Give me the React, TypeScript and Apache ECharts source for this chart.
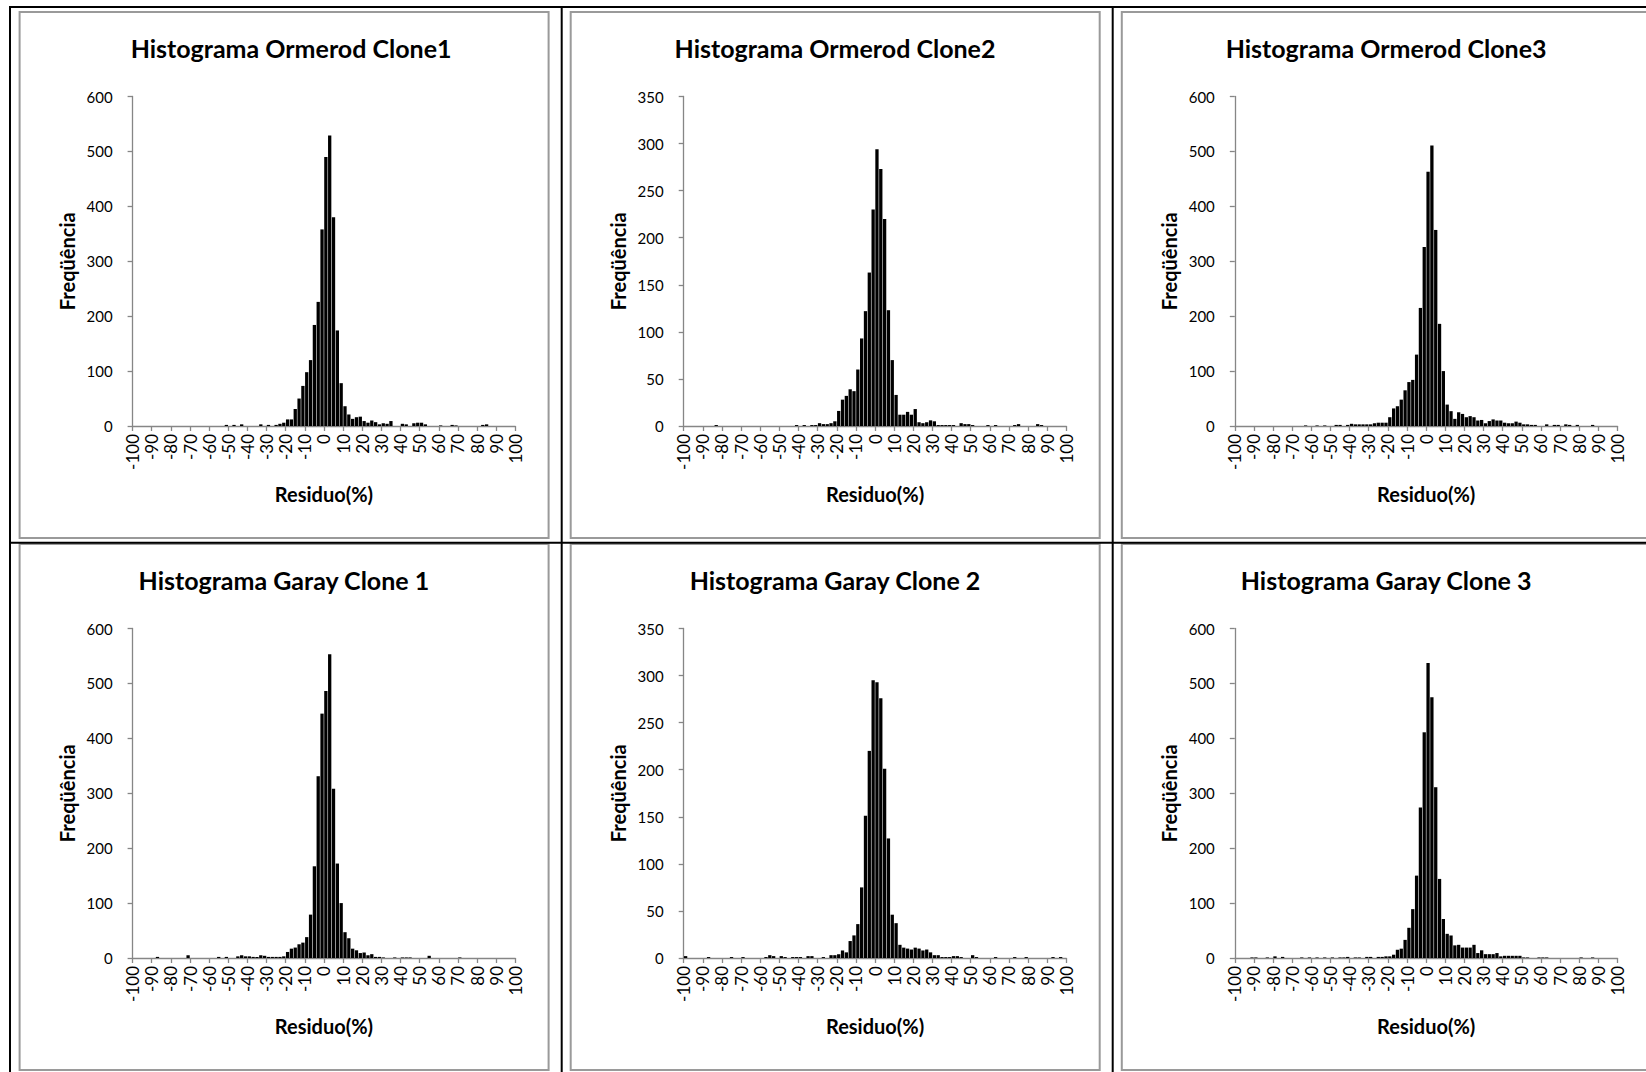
import React, { useEffect, useRef } from "react";
import * as echarts from "echarts";

// Bin centres (2%-wide bins from -100 to 100)
const BIN_CENTERS = [
  -99, -97, -95, -93, -91, -89, -87, -85, -83, -81,
  -79, -77, -75, -73, -71, -69, -67, -65, -63, -61,
  -59, -57, -55, -53, -51, -49, -47, -45, -43, -41,
  -39, -37, -35, -33, -31, -29, -27, -25, -23, -21,
  -19, -17, -15, -13, -11, -9, -7, -5, -3, -1,
  1, 3, 5, 7, 9, 11, 13, 15, 17, 19,
  21, 23, 25, 27, 29, 31, 33, 35, 37, 39,
  41, 43, 45, 47, 49, 51, 53, 55, 57, 59,
  61, 63, 65, 67, 69, 71, 73, 75, 77, 79,
  81, 83, 85, 87, 89, 91, 93, 95, 97, 99,
];

const X_MIN = -100;
const X_MAX = 100;
const X_STEP = 10;

const TITLES = [
  "Histograma Ormerod Clone1",
  "Histograma Ormerod Clone2",
  "Histograma Ormerod Clone3",
  "Histograma Garay Clone 1",
  "Histograma Garay Clone 2",
  "Histograma Garay Clone 3",
];
const Y_MAX = [600, 350, 600, 600, 350, 600];
const Y_STEP = [100, 50, 100, 100, 50, 100];
const X_NAME = "Residuo(%)";
const Y_NAME = "Freqüência";

const ORMEROD_CLONE1 = [
  0, 0, 0, 0, 0, 0, 0, 0, 0, 0,
  0, 0, 0, 0, 0, 0, 0, 0, 0, 0,
  0, 0, 0, 0, 2, 0, 2, 0, 3, 0,
  0, 0, 0, 3, 0, 2, 0, 2, 4, 6,
  12, 12, 31, 50, 73, 98, 120, 184, 226, 358,
  490, 529, 380, 174, 78, 36, 21, 13, 16, 17,
  9, 6, 10, 7, 3, 5, 4, 9, 0, 0,
  4, 3, 0, 5, 6, 6, 3, 0, 0, 0,
  1, 0, 0, 2, 1, 0, 0, 0, 0, 0,
  0, 2, 3, 0, 0, 0, 0, 0, 0, 0,
];
const ORMEROD_CLONE2 = [
  0, 0, 0, 0, 0, 0, 0, 0, 1, 0,
  0, 0, 0, 0, 0, 0, 0, 0, 0, 0,
  0, 0, 0, 0, 0, 0, 0, 0, 0, 1,
  0, 1, 0, 1, 1, 3, 2, 2, 3, 5,
  16, 28, 32, 39, 37, 60, 93, 122, 163, 230,
  294, 273, 220, 123, 70, 33, 12, 12, 15, 12,
  18, 4, 3, 4, 6, 5, 1, 1, 1, 1,
  1, 0, 3, 2, 2, 1, 0, 0, 0, 1,
  0, 1, 0, 0, 0, 0, 1, 2, 0, 0,
  0, 0, 2, 1, 0, 0, 0, 0, 0, 0,
];
const ORMEROD_CLONE3 = [
  0, 0, 0, 0, 0, 0, 0, 0, 0, 0,
  0, 0, 0, 0, 0, 0, 0, 0, 1, 0,
  0, 1, 0, 1, 0, 0, 2, 2, 0, 2,
  4, 3, 3, 3, 3, 3, 5, 6, 6, 6,
  16, 32, 36, 48, 65, 80, 84, 130, 215, 326,
  463, 511, 357, 186, 100, 39, 27, 13, 25, 22,
  16, 18, 16, 10, 11, 5, 9, 12, 10, 10,
  6, 5, 5, 8, 6, 3, 3, 2, 2, 0,
  0, 3, 0, 2, 2, 0, 3, 2, 0, 2,
  0, 0, 0, 2, 0, 0, 0, 0, 0, 0,
];
const GARAY_CLONE1 = [
  0, 0, 0, 0, 0, 0, 2, 0, 0, 0,
  0, 0, 0, 0, 5, 0, 0, 0, 0, 0,
  0, 0, 2, 0, 2, 0, 0, 3, 5, 3,
  3, 2, 2, 5, 4, 2, 2, 2, 2, 3,
  11, 17, 19, 25, 28, 38, 79, 167, 331, 445,
  486, 553, 308, 172, 100, 47, 36, 17, 14, 9,
  10, 5, 7, 2, 2, 1, 0, 0, 1, 0,
  1, 1, 1, 0, 0, 0, 0, 4, 0, 0,
  0, 0, 0, 0, 0, 1, 0, 0, 0, 0,
  0, 0, 0, 0, 0, 0, 0, 0, 0, 0,
];
const GARAY_CLONE2 = [
  2, 0, 0, 0, 0, 0, 1, 0, 0, 0,
  0, 0, 1, 0, 0, 1, 0, 0, 0, 0,
  0, 1, 3, 2, 0, 2, 1, 0, 1, 1,
  1, 0, 2, 2, 0, 0, 1, 0, 3, 3,
  4, 8, 6, 18, 24, 36, 75, 151, 220, 295,
  293, 276, 201, 127, 46, 37, 14, 11, 10, 9,
  11, 10, 8, 9, 6, 3, 3, 1, 1, 1,
  2, 2, 1, 0, 0, 3, 1, 0, 0, 0,
  0, 1, 0, 0, 0, 0, 1, 0, 0, 1,
  0, 0, 0, 0, 0, 0, 1, 0, 1, 0,
];
const GARAY_CLONE3 = [
  0, 0, 0, 0, 1, 1, 0, 0, 1, 0,
  3, 0, 2, 0, 0, 0, 0, 1, 0, 1,
  0, 1, 0, 1, 0, 1, 0, 1, 1, 2,
  0, 1, 1, 0, 2, 2, 0, 2, 2, 3,
  3, 6, 15, 17, 33, 55, 89, 150, 274, 411,
  537, 475, 311, 144, 71, 44, 41, 23, 24, 19,
  19, 19, 24, 9, 14, 7, 7, 7, 9, 3,
  4, 4, 4, 4, 4, 1, 1, 0, 0, 1,
  1, 1, 0, 0, 0, 0, 0, 0, 0, 0,
  1, 0, 0, 1, 0, 0, 0, 0, 0, 0,
];

const SERIES_VALUES = [
  ORMEROD_CLONE1,
  ORMEROD_CLONE2,
  ORMEROD_CLONE3,
  GARAY_CLONE1,
  GARAY_CLONE2,
  GARAY_CLONE3,
];

// ---- layout (pixels) ----
const W = 1646;
const H = 1072;
const PANEL_X0 = 19.6;
const PANEL_Y0 = 12;
const PANEL_DX = 551.1;
const PANEL_DY = 532;
const PANEL_W = 529;
const PANEL_H = 526;
const PLOT_L = 113;
const PLOT_T = 84.5;
const PLOT_W = 382.7;
const PLOT_H = 329.5;
const TITLE_CX = [271.5, 264.3, 264.3, 264.3, 264.3, 264.3];
const TITLE_CY = 36.4;
const XNAME_CY = 482;
const YNAME_CX = 47.6;

const FONT = "Lato, 'Open Sans', sans-serif";
const AXIS_GRAY = "#868686";

export default function App() {
  const ref = useRef<HTMLDivElement>(null);

  useEffect(() => {
    document.body.style.margin = "0";
    const chart = echarts.init(ref.current!, null, { renderer: "svg" });

    const grids: any[] = [];
    const xAxes: any[] = [];
    const yAxes: any[] = [];
    const series: any[] = [];
    const graphics: any[] = [];

    for (let i = 0; i < 6; i++) {
      const col = i % 3;
      const row = Math.floor(i / 3);
      const px = PANEL_X0 + col * PANEL_DX;
      const py = PANEL_Y0 + row * PANEL_DY;

      grids.push({
        left: px + PLOT_L,
        top: py + PLOT_T,
        width: PLOT_W,
        height: PLOT_H,
        containLabel: false,
      });
      xAxes.push({
        type: "value",
        gridIndex: i,
        min: X_MIN,
        max: X_MAX,
        interval: X_STEP,
        axisLine: { show: true, onZero: false, lineStyle: { color: AXIS_GRAY, width: 1.3 } },
        axisTick: { show: true, length: 5, lineStyle: { color: AXIS_GRAY, width: 1.3 } },
        splitLine: { show: false },
        axisLabel: {
          rotate: 90,
          margin: 8,
          color: "#000",
          fontFamily: FONT,
          fontSize: 17,
          showMinLabel: true,
          showMaxLabel: true,
          hideOverlap: false,
        },
      });
      yAxes.push({
        type: "value",
        gridIndex: i,
        min: 0,
        max: Y_MAX[i],
        interval: Y_STEP[i],
        axisLine: { show: true, onZero: false, lineStyle: { color: AXIS_GRAY, width: 1.3 } },
        axisTick: { show: true, length: 5, lineStyle: { color: AXIS_GRAY, width: 1.3 } },
        splitLine: { show: false },
        axisLabel: {
          margin: 20,
          color: "#000",
          fontFamily: FONT,
          fontSize: 15,
        },
      });
      series.push({
        type: "bar",
        xAxisIndex: i,
        yAxisIndex: i,
        data: BIN_CENTERS.map((c, k) => [c, SERIES_VALUES[i][k]]),
        barCategoryGap: "14%",
        itemStyle: { color: "#000" },
        silent: true,
      });

      // panel border
      graphics.push({
        type: "rect",
        shape: { x: px, y: py, width: PANEL_W, height: PANEL_H },
        style: { fill: "none", stroke: "#9a9a9a", lineWidth: 2 },
        silent: true,
      });
      // title
      graphics.push({
        type: "text",
        x: px + TITLE_CX[i],
        y: py + TITLE_CY,
        style: {
          text: TITLES[i],
          align: "center",
          verticalAlign: "middle",
          fontFamily: FONT,
          fontWeight: "bold",
          fontSize: 25,
          fill: "#000",
        },
        silent: true,
      });
      // x axis name
      graphics.push({
        type: "text",
        x: px + PLOT_L + PLOT_W / 2,
        y: py + XNAME_CY,
        style: {
          text: X_NAME,
          align: "center",
          verticalAlign: "middle",
          fontFamily: FONT,
          fontWeight: "bold",
          fontSize: 20,
          fill: "#000",
        },
        silent: true,
      });
      // y axis name
      graphics.push({
        type: "text",
        x: px + YNAME_CX,
        y: py + PLOT_T + PLOT_H / 2,
        rotation: Math.PI / 2,
        style: {
          text: Y_NAME,
          align: "center",
          verticalAlign: "middle",
          fontFamily: FONT,
          fontWeight: "bold",
          fontSize: 20,
          fill: "#000",
        },
        silent: true,
      });
    }

    // black table lines
    const vLines = [10, 561.7, 1112.7];
    const hLines = [7, 542.7];
    vLines.forEach((x) =>
      graphics.push({
        type: "line",
        shape: { x1: x, y1: 6, x2: x, y2: H },
        style: { stroke: "#000", lineWidth: 2 },
        silent: true,
      })
    );
    hLines.forEach((y) =>
      graphics.push({
        type: "line",
        shape: { x1: 9, y1: y, x2: W, y2: y },
        style: { stroke: "#000", lineWidth: 2 },
        silent: true,
      })
    );

    chart.setOption({
      animation: false,
      backgroundColor: "#fff",
      grid: grids,
      xAxis: xAxes,
      yAxis: yAxes,
      series,
      graphic: { elements: graphics },
    });

    return () => chart.dispose();
  }, []);

  return (
    <div
      ref={ref}
      style={{ position: "absolute", left: 0, top: 0, width: W, height: H, background: "#fff" }}
    />
  );
}
